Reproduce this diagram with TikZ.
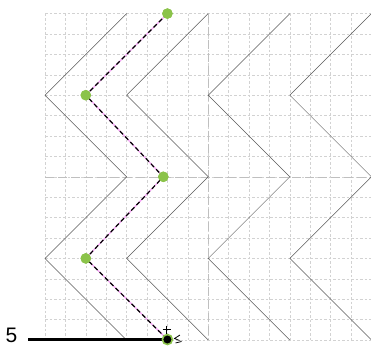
\documentclass[tikz,border=0pt]{standalone}
\usepackage{fontspec}
\setmainfont{Liberation Sans}
\definecolor{dotgreen}{RGB}{139,195,74}
\definecolor{pinkline}{RGB}{245,165,245}
\tikzset{
  gridline/.style={gray!35, line width=0.5pt, dash pattern=on 2.5pt off 2pt},
  axisline/.style={gray!50, line width=0.6pt, dash pattern=on 9pt off 4pt},
  zig/.style={black!65, line width=0.5pt},
  gdot/.style={circle, fill=dotgreen, inner sep=0pt, minimum size=10.5pt},
  bdot/.style={circle, fill=black, draw=dotgreen, line width=1.6pt, inner sep=0pt, minimum size=10pt},
  pinkpath/.style={pinkline, line width=1.3pt},
  dashpath/.style={black, line width=1.2pt, dash pattern=on 4.5pt off 3pt},
}
\begin{document}
\begin{tikzpicture}[x=1pt,y=-1pt]
\useasboundingbox (0,0) rectangle (371,345);
\def\u{20.4}
% grid
\foreach \i in {0,...,16}{
  \draw[gridline] ({45+\u*\i},13.6) -- ({45+\u*\i},340);
  \draw[gridline] (45,{340-\u*\i}) -- (371.4,{340-\u*\i});
}
\draw[axisline] ({45+8*\u},13.6) -- ({45+8*\u},340);
\draw[axisline] (45,{340-8*\u}) -- (371.4,{340-8*\u});
% zigzags
\foreach \k in {0,...,3}{
  \pgfmathsetmacro{\L}{45+\u*4*\k}
  \pgfmathsetmacro{\R}{45+\u*(4*\k+4)}
  \draw[zig] (\R,{340-16*\u}) -- (\L,{340-12*\u}) -- (\R,{340-8*\u}) -- (\L,{340-4*\u}) -- (\R,340);
}
% dots
\node[gdot] (p1) at ({45+6*\u},{340-16*\u}) {};
\node[gdot] (p2) at ({45+2*\u},{340-12*\u}) {};
\node[gdot] (p3) at ({45+5.8*\u},{340-8*\u}) {};
\node[gdot] (p4) at ({45+2*\u},{340-4*\u}) {};
\coordinate (p5) at ({45+6*\u},339.5);
\draw[pinkpath] (p1.center) -- (p2.center) -- (p3.center) -- (p4.center) -- (p5);
\draw[dashpath] (p1.center) -- (p2.center) -- (p3.center) -- (p4.center) -- (p5);
\node[gdot] at (p1) {};
\node[gdot] at (p2) {};
\node[gdot] at (p3) {};
\node[gdot] at (p4) {};
% bottom
\node[font=\fontsize{21}{23}\selectfont, inner sep=0pt, anchor=base] (five) at (11.5,342.8) {5};
\coordinate (lstart) at (28,339.5);
\draw[black, line width=2.8pt] (lstart) -- (p5);
\node[bdot] (end) at (p5) {};
\draw[black, line width=0.7pt] (162.5,329.5) -- (171,329.5) (166.8,325.5) -- (166.8,333.5);
\draw[black, line width=0.8pt] (180,335) -- (174.5,338.5) -- (179.5,340.5) (175.5,343) -- (181.5,341.5);
\end{tikzpicture}
\end{document}
